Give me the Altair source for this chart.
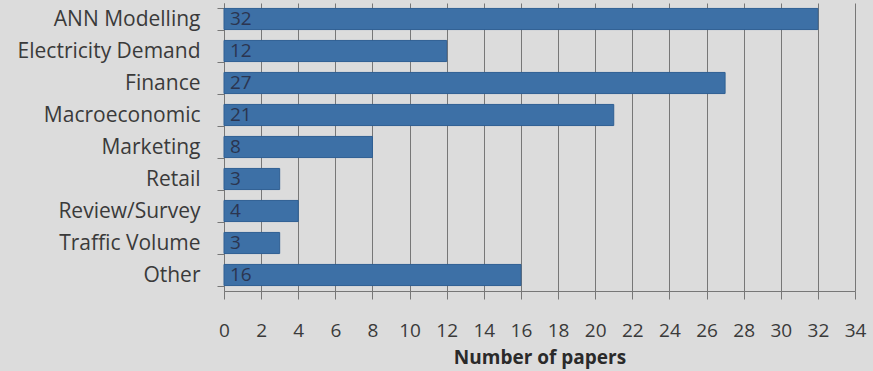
import altair as alt
import pandas as pd

categories = ["ANN Modelling", "Electricity Demand", "Finance", "Macroeconomic",
              "Marketing", "Retail", "Review/Survey", "Traffic Volume", "Other"]
papers = [32, 12, 27, 21, 8, 3, 4, 3, 16]
x_ticks = list(range(0, 35, 2))

df = pd.DataFrame({"category": categories, "papers": papers})

FONT = "Open Sans"
x_axis = alt.Axis(values=x_ticks, labelOverlap=False, labelFlush=False, labelFont=FONT,
                  labelFontSize=19, labelColor="#3a3a3a", tickSize=8,
                  tickColor="#777777", domainColor="#777777",
                  gridColor="#777777", gridWidth=1, labelPadding=22,
                  titleFont=FONT, titleFontSize=19, titleFontWeight="bold",
                  titleColor="#2a2a2a", titlePadding=8)
x_scale = alt.Scale(domain=[0, 34], nice=False)

y_enc = alt.Y("category:N", sort=categories, title=None,
              scale=alt.Scale(paddingInner=0.34, paddingOuter=0.17),
              axis=alt.Axis(labelFont=FONT, labelFontSize=21, labelColor="#3a3a3a",
                            labelLimit=400, tickBand="extent", tickSize=7,
                            tickColor="#777777", domainColor="#777777",
                            labelPadding=17, grid=False))

bars = alt.Chart(df).mark_bar(color="#3d70a6", stroke="#2f5f93", strokeWidth=1).encode(
    x=alt.X("papers:Q", title="Number of papers", scale=x_scale, axis=x_axis),
    y=y_enc)
labels = alt.Chart(df).transform_calculate(zero="0").mark_text(
    align="left", dx=6, font=FONT, fontSize=19, color="#2b3550").encode(
    x=alt.X("zero:Q", title="Number of papers", scale=x_scale, axis=x_axis),
    y=y_enc, text="papers:Q")

chart = (bars + labels).properties(
    width=631, height=288, background="#dcdcdc",
    padding={"left": 224, "top": 3, "right": 18, "bottom": 80},
    autosize=alt.AutoSizeParams(type="none")
).configure_view(stroke=None)

chart.save("out.html", embed_options={"renderer": "svg", "actions": False})
